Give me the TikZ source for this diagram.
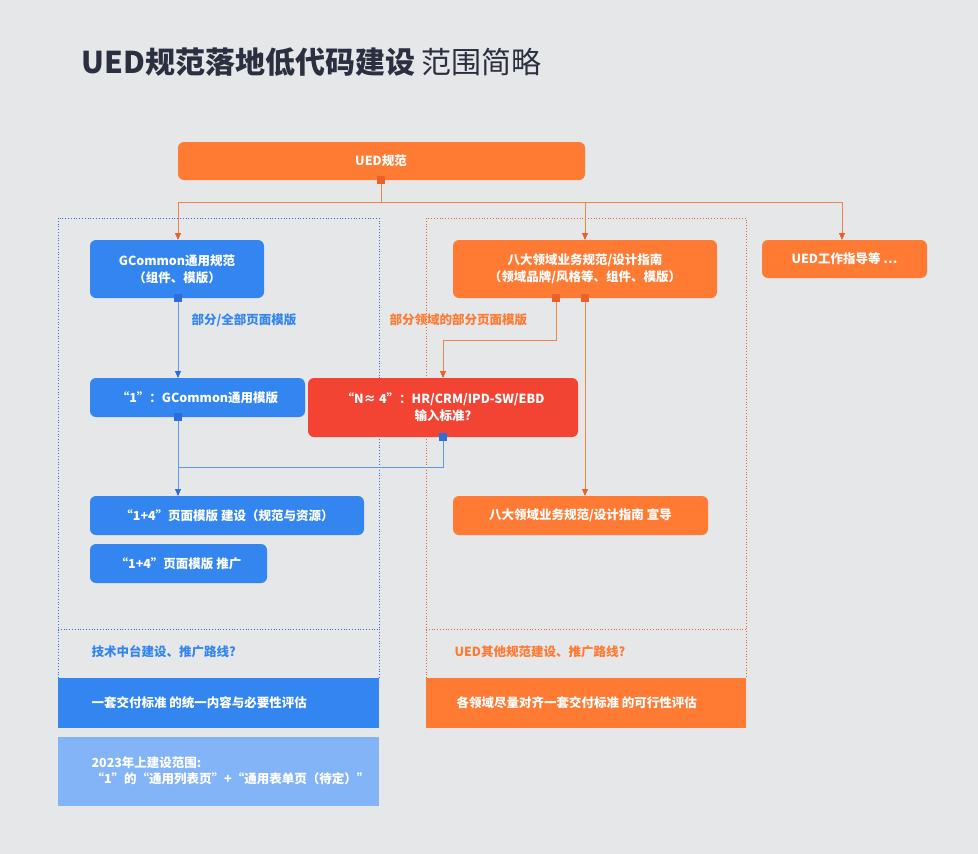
\documentclass[tikz,border=0pt]{standalone}
\usepackage{fontspec}
\setmainfont{Noto Sans CJK SC}
\usetikzlibrary{arrows.meta}
\definecolor{bg}{HTML}{E6E7E9}
\definecolor{org}{HTML}{FF7A33}
\definecolor{blu}{HTML}{3385F0}
\definecolor{redb}{HTML}{F24333}
\definecolor{lblu}{HTML}{84B4F8}
\definecolor{oline}{HTML}{F0854A}
\definecolor{bline}{HTML}{5E9AEC}
\definecolor{osq}{HTML}{E8622A}
\definecolor{bsq}{HTML}{2A6FDC}
\definecolor{ttl}{HTML}{2B3040}
\begin{document}
\begin{tikzpicture}[x=1pt,y=-1pt,
  box/.style={rounded corners=6pt,inner sep=0pt},
  wt/.style={text=white,font=\fontsize{12.5}{17}\selectfont\bfseries,align=center},
  sq/.style={minimum size=8pt,inner sep=0pt},
  oa/.style={draw=oline,line width=0.9pt,-{Triangle[width=6pt,length=7pt]},arrows={-{Triangle[width=6pt,length=7pt,color=osq]}}},
  ba/.style={draw=bline,line width=0.9pt,arrows={-{Triangle[width=6pt,length=7pt,color=bsq]}}},
  lbl/.style={font=\fontsize{12.5}{16}\selectfont\bfseries,anchor=west}]
\fill[bg] (0,0) rectangle (978,854);
\node[anchor=west,text=ttl,font=\fontsize{30}{34}\selectfont] (title) at (78,62) {\textbf{UED规范落地低代码建设} 范围简略};
% dashed frames
\draw[bsq,dotted,line width=0.8pt] (58,218) rectangle (379,678);
\draw[bsq,dotted,line width=0.8pt] (58,629) -- (379,629);
\draw[osq,dotted,line width=0.8pt] (426,218) rectangle (746,678);
\draw[osq,dotted,line width=0.8pt] (426,629) -- (746,629);
% boxes
\fill[org,box] (178,142) rectangle (585,180);
\node[wt] (ued) at (381,161) {UED规范};
\fill[blu,box] (90,240) rectangle (264,298);
\node[wt] (gc) at (177,269) {GCommon通用规范\\（组件、模版）};
\fill[org,box] (453,240) rectangle (717,298);
\node[wt] (bd) at (585,269) {八大领域业务规范/设计指南\\（领域品牌/风格等、组件、模版）};
\fill[org,box] (762,240) rectangle (927,278);
\node[wt] (wk) at (844.5,259) {UED工作指导等 …};
\fill[blu,box] (90,378) rectangle (305,417);
\node[wt] (one) at (197.5,397.5) {“1”：GCommon通用模版};
\fill[redb,box] (308,378) rectangle (578,437);
\node[wt] (n4) at (443,407.5) {“N≈ 4”：HR/CRM/IPD-SW/EBD\\输入标准?};
\fill[blu,box] (90,496) rectangle (364,535);
\node[wt] (jb) at (227,515.5) {“1+4”页面模版 建设（规范与资源）};
\fill[blu,box] (90,544) rectangle (267,583);
\node[wt] (tg) at (178.5,563.5) {“1+4”页面模版 推广};
\fill[org,box] (453,496) rectangle (708,535);
\node[wt] (xd) at (580.5,515.5) {八大领域业务规范/设计指南 宣导};
\node[lbl,text=blu] (lb1) at (188,320) {部分/全部页面模版};
\node[lbl,text=org] (lb2) at (386,320) {部分领域的部分页面模版};
\node[lbl,text=blu] (q1) at (88,652) {技术中台建设、推广路线?};
\node[lbl,text=org] (q2) at (451,652) {UED其他规范建设、推广路线?};
\fill[blu] (58,678) rectangle (379,728);
\node[lbl,text=white] (p1) at (88,703) {一套交付标准 的统一内容与必要性评估};
\fill[org] (426,678) rectangle (746,728);
\node[lbl,text=white] (p2) at (453,703) {各领域尽量对齐一套交付标准 的可行性评估};
\fill[lblu] (58,737) rectangle (379,806);
\node[lbl,text=white,align=left] (p3) at (88,771) {2023年上建设范围:\\“1”的“通用列表页”+“通用表单页（待定）”};
% connector ports
\coordinate (g1) at (178,240);
\coordinate (b1) at (585,240);
\coordinate (w1) at (842,240);
\node[sq,fill=osq] (s0) at (381,180) {};
\node[sq,fill=bsq] (s1) at (178,298) {};
\node[sq,fill=osq] (s2) at (556,298) {};
\node[sq,fill=osq] (s3) at (585,298) {};
\node[sq,fill=bsq] (s4) at (178,417) {};
\node[sq,fill=bsq] (s5) at (443,437) {};
\coordinate (oneT) at (178,378);
\coordinate (n4T) at (443,378);
\coordinate (jbT) at (178,496);
\coordinate (xdT) at (585,496);
\draw[oa] (s0.south) -- (381,202) -| (g1);
\draw[oa] (381,202) -| (b1);
\draw[oa] (381,202) -| (w1);
\draw[ba] (s1.south) -- (oneT);
\draw[oa] (s2.south) -- (556,340) -| (n4T);
\draw[oa] (s3.south) -- (xdT);
\draw[ba] (s4.south) -- (jbT);
\draw[draw=bline,line width=0.9pt] (s5.south) |- (178,467);
\end{tikzpicture}
\end{document}
